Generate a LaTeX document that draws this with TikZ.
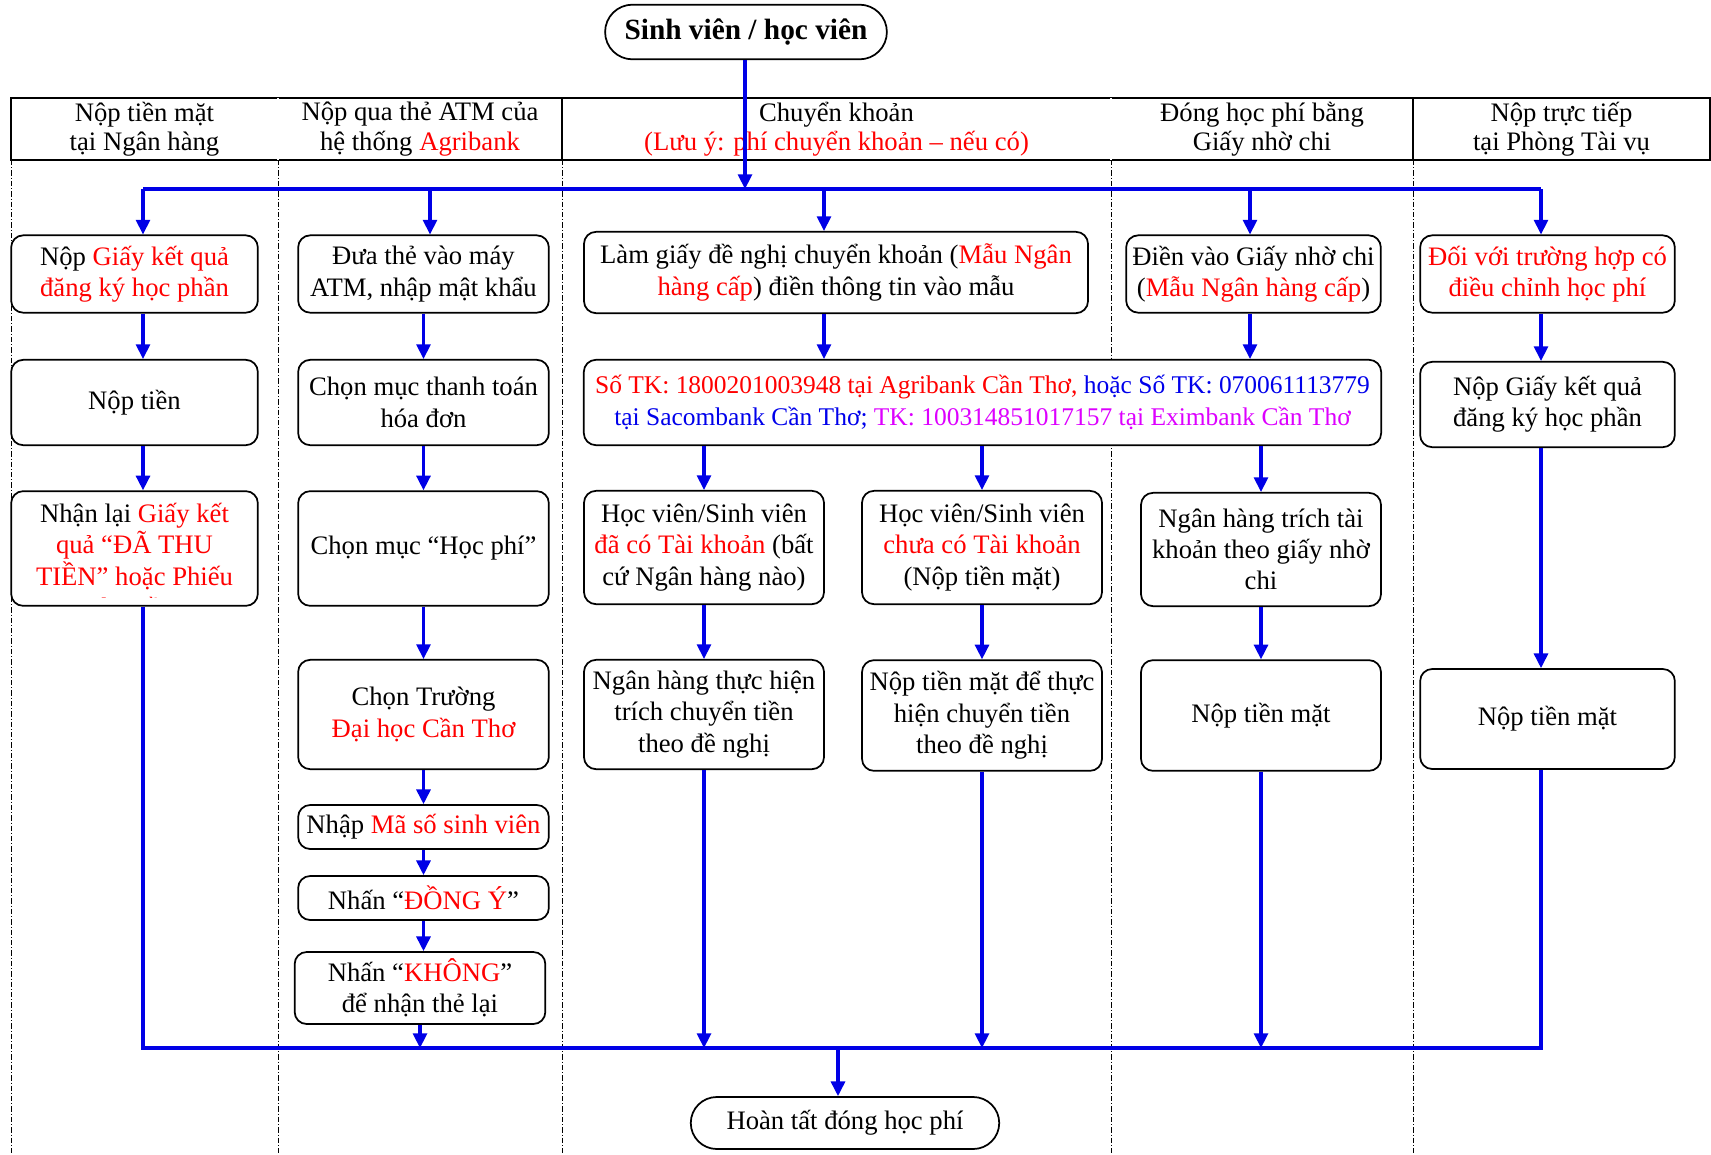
\documentclass[tikz,border=0pt]{standalone}
\usepackage{fontspec}
\setmainfont{Liberation Serif}
\usetikzlibrary{arrows.meta,shapes.misc}
\definecolor{flowblue}{RGB}{0,0,230}
\definecolor{txtred}{RGB}{255,0,0}
\definecolor{txtblue}{RGB}{0,0,235}
\definecolor{txtmag}{RGB}{221,0,255}
\newcommand{\rtxt}[1]{\textcolor{txtred}{#1}}

\begin{document}
\begin{tikzpicture}[x=0.75pt, y=-0.75pt,
    font=\fontsize{20}{23.5}\selectfont,
    proc/.style={draw, fill=white, line width=1.3pt, rounded corners=9pt, align=center, inner sep=2pt},
    term/.style={draw, fill=white, rounded rectangle, line width=1.3pt, align=center},
    head/.style={align=center, font=\fontsize{20}{22}\selectfont},
    lane/.style={line width=0.5pt, dash pattern=on 4pt off 1.5pt on 0.8pt off 1.5pt},
    flow/.style={draw=flowblue, line width=2.3pt},
    arr/.style={flow, -{Triangle[length=11pt,width=10.5pt]}}]

    \useasboundingbox (0,0) rectangle (1711,1154);

    % lanes and header
    \foreach \x in {11,278,562,1111,1413}
        \draw[lane] (\x,160) -- (\x,1154);
    \draw[line width=1.5pt] (11,98) rectangle (1710,160);
    \foreach \x in {278,1111}
        \draw[double, double distance=1pt, line width=0.5pt] (\x,98) -- (\x,160);
    \foreach \x in {562,1413}
        \draw[line width=1.5pt] (\x,98) -- (\x,160);

    \node[head] (h1) at (144.5,129) {Nộp tiền mặt\\tại Ngân hàng};
    \node[head] (h2) at (420,129) {Nộp qua thẻ ATM của\\hệ thống \rtxt{Agribank}};
    \node[head] (h3) at (836.5,129) {Chuyển khoản\\\rtxt{(Lưu ý: phí chuyển khoản – nếu có)}};
    \node[head] (h4) at (1262,129) {Đóng học phí bằng\\Giấy nhờ chi};
    \node[head] (h5) at (1561.5,129) {Nộp trực tiếp\\tại Phòng Tài vụ};

    \node[term, font=\bfseries\fontsize{22}{26}\selectfont, minimum width=218pt, minimum height=41pt] (sv) at (746,32) {Sinh viên / học viên};
    \node[term, minimum width=238pt, minimum height=39pt] (done) at (845,1123) {Hoàn tất đóng học phí};

    % nop tien mat tai ngan hang
    \node[proc, minimum width=185pt, minimum height=58pt] (b1) at (134.5,274) {Nộp \rtxt{Giấy kết quả}\\\rtxt{đăng ký học phần}};
    \node[proc, minimum width=185pt, minimum height=64pt] (b2) at (134.5,402.5) {Nộp tiền};
    \node[proc, minimum width=185pt, minimum height=86pt] (b3) at (134.5,548.5) {};
    \begin{scope}
        \clip ([yshift=7pt]b3.south west) rectangle (b3.north east);
        \node[align=center] (b3t) at (134.5,560) {Nhận lại \rtxt{Giấy kết}\\\rtxt{quả “ĐÃ THU}\\\rtxt{TIỀN” hoặc Phiếu}\\\rtxt{thu tiền}};
    \end{scope}

    % the ATM
    \node[proc, minimum width=188pt, minimum height=58pt] (a1) at (423.5,274) {Đưa thẻ vào máy\\ATM, nhập mật khẩu};
    \node[proc, minimum width=188pt, minimum height=64pt] (a2) at (423.5,402.5) {Chọn mục thanh toán\\hóa đơn};
    \node[proc, minimum width=188pt, minimum height=86pt] (a3) at (423.5,548.5) {Chọn mục “Học phí”};
    \node[proc, minimum width=188pt, minimum height=82pt] (a4) at (423.5,714.5) {Chọn Trường\\\rtxt{Đại học Cần Thơ}};
    \node[proc, minimum width=188pt, minimum height=33pt] (a5) at (423.5,827) {Nhập \rtxt{Mã số sinh viên}};
    \node[proc, minimum width=188pt, minimum height=33pt] (a6) at (423.5,898) {Nhấn “\rtxt{ĐỒNG Ý}”};
    \node[proc, minimum width=188pt, minimum height=54pt] (a7) at (420,988) {Nhấn “\rtxt{KHÔNG}”\\để nhận thẻ lại};

    % chuyen khoan
    \node[proc, minimum width=378pt, minimum height=61pt] (t1) at (836,272.5) {Làm giấy đề nghị chuyển khoản (\rtxt{Mẫu Ngân}\\\rtxt{hàng cấp}) điền thông tin vào mẫu};
    \node[proc, font=\fontsize{19.1}{23.5}\selectfont, minimum width=598pt, minimum height=64pt] (t2) at (982.5,402.5) {\rtxt{Số TK: 1800201003948 tại Agribank Cần Thơ,} \textcolor{txtblue}{hoặc Số TK: 070061113779}\\\textcolor{txtblue}{tại Sacombank Cần Thơ;} \textcolor{txtmag}{TK: 100314851017157 tại Eximbank Cần Thơ}};
    \node[proc, minimum width=180pt, minimum height=85pt] (t3) at (704,547.5) {Học viên/Sinh viên\\\rtxt{đã có Tài khoản} (bất\\cứ Ngân hàng nào)};
    \node[proc, minimum width=180pt, minimum height=85pt] (t4) at (982,547.5) {Học viên/Sinh viên\\\rtxt{chưa có Tài khoản}\\(Nộp tiền mặt)};
    \node[proc, minimum width=180pt, minimum height=82pt] (t5) at (704,714.5) {Ngân hàng thực hiện\\trích chuyển tiền\\theo đề nghị};
    \node[proc, minimum width=180pt, minimum height=83pt] (t6) at (982,715.5) {Nộp tiền mặt để thực\\hiện chuyển tiền\\theo đề nghị};

    % giay nho chi
    \node[proc, minimum width=191pt, minimum height=58pt] (g1) at (1253.5,274) {Điền vào Giấy nhờ chi\\(\rtxt{Mẫu Ngân hàng cấp})};
    \node[proc, minimum width=180pt, minimum height=85pt] (g2) at (1261,549.5) {Ngân hàng trích tài\\khoản theo giấy nhờ\\chi};
    \node[proc, minimum width=180pt, minimum height=83pt] (g3) at (1261,715.5) {Nộp tiền mặt};

    % phong tai vu
    \node[proc, minimum width=191pt, minimum height=58pt] (d1) at (1547.5,274) {\rtxt{Đối với trường hợp có}\\\rtxt{điều chỉnh học phí}};
    \node[proc, minimum width=191pt, minimum height=64pt] (d2) at (1547.5,404.5) {Nộp Giấy kết quả\\đăng ký học phần};
    \node[proc, minimum width=191pt, minimum height=75pt] (d3) at (1547.5,719) {Nộp tiền mặt};

    % connectors
    \coordinate (top) at (745,189);
    \coordinate (x1) at (143,189);
    \coordinate (x2) at (430,189);
    \coordinate (x3) at (824,189);
    \coordinate (x4) at (1250,189);
    \coordinate (x5) at (1541,189);
    \coordinate (bl) at (143,1048);
    \coordinate (br) at (1541,1048);
    \coordinate (bot) at (838,1048);

    \draw[arr] (sv.south -| top) -- (top);
    \draw[flow] (x1) -- (x5);
    \foreach \c/\n in {x1/b1, x2/a1, x3/t1, x4/g1, x5/d1}
        \draw[arr] (\c) -- (\c |- \n.north);

    \draw[arr] (b1.south -| x1) -- (b2.north -| x1);
    \draw[arr] (b2.south -| x1) -- (b3.north -| x1);
    \draw[flow] (b3.south -| x1) -- (bl) -- (br) -- (d3.south -| br);

    \draw[arr] (a1) -- (a2);
    \draw[arr] (a2) -- (a3);
    \draw[arr] (a3) -- (a4);
    \draw[arr] (a4) -- (a5);
    \draw[arr] (a5) -- (a6);
    \draw[arr] (a6.south) -- (a6.south |- a7.north);
    \draw[arr] (a7) -- (a7 |- bl);

    \draw[arr] (t1.south -| x3) -- (t2.north -| x3);
    \draw[arr] (g1.south -| x4) -- (t2.north -| x4);
    \foreach \n in {t3, t4, g2}
        \draw[arr] (t2.south -| \n) -- (\n.north);
    \draw[arr] (t3) -- (t5);
    \draw[arr] (t4) -- (t6);
    \draw[arr] (g2) -- (g3);
    \foreach \n in {t5, t6, g3}
        \draw[arr] (\n) -- (\n |- bl);

    \draw[arr] (d1.south -| x5) -- (d2.north -| x5);
    \draw[arr] (d2.south -| x5) -- (d3.north -| x5);

    \draw[arr] (bot) -- (done.north -| bot);
\end{tikzpicture}
\end{document}
